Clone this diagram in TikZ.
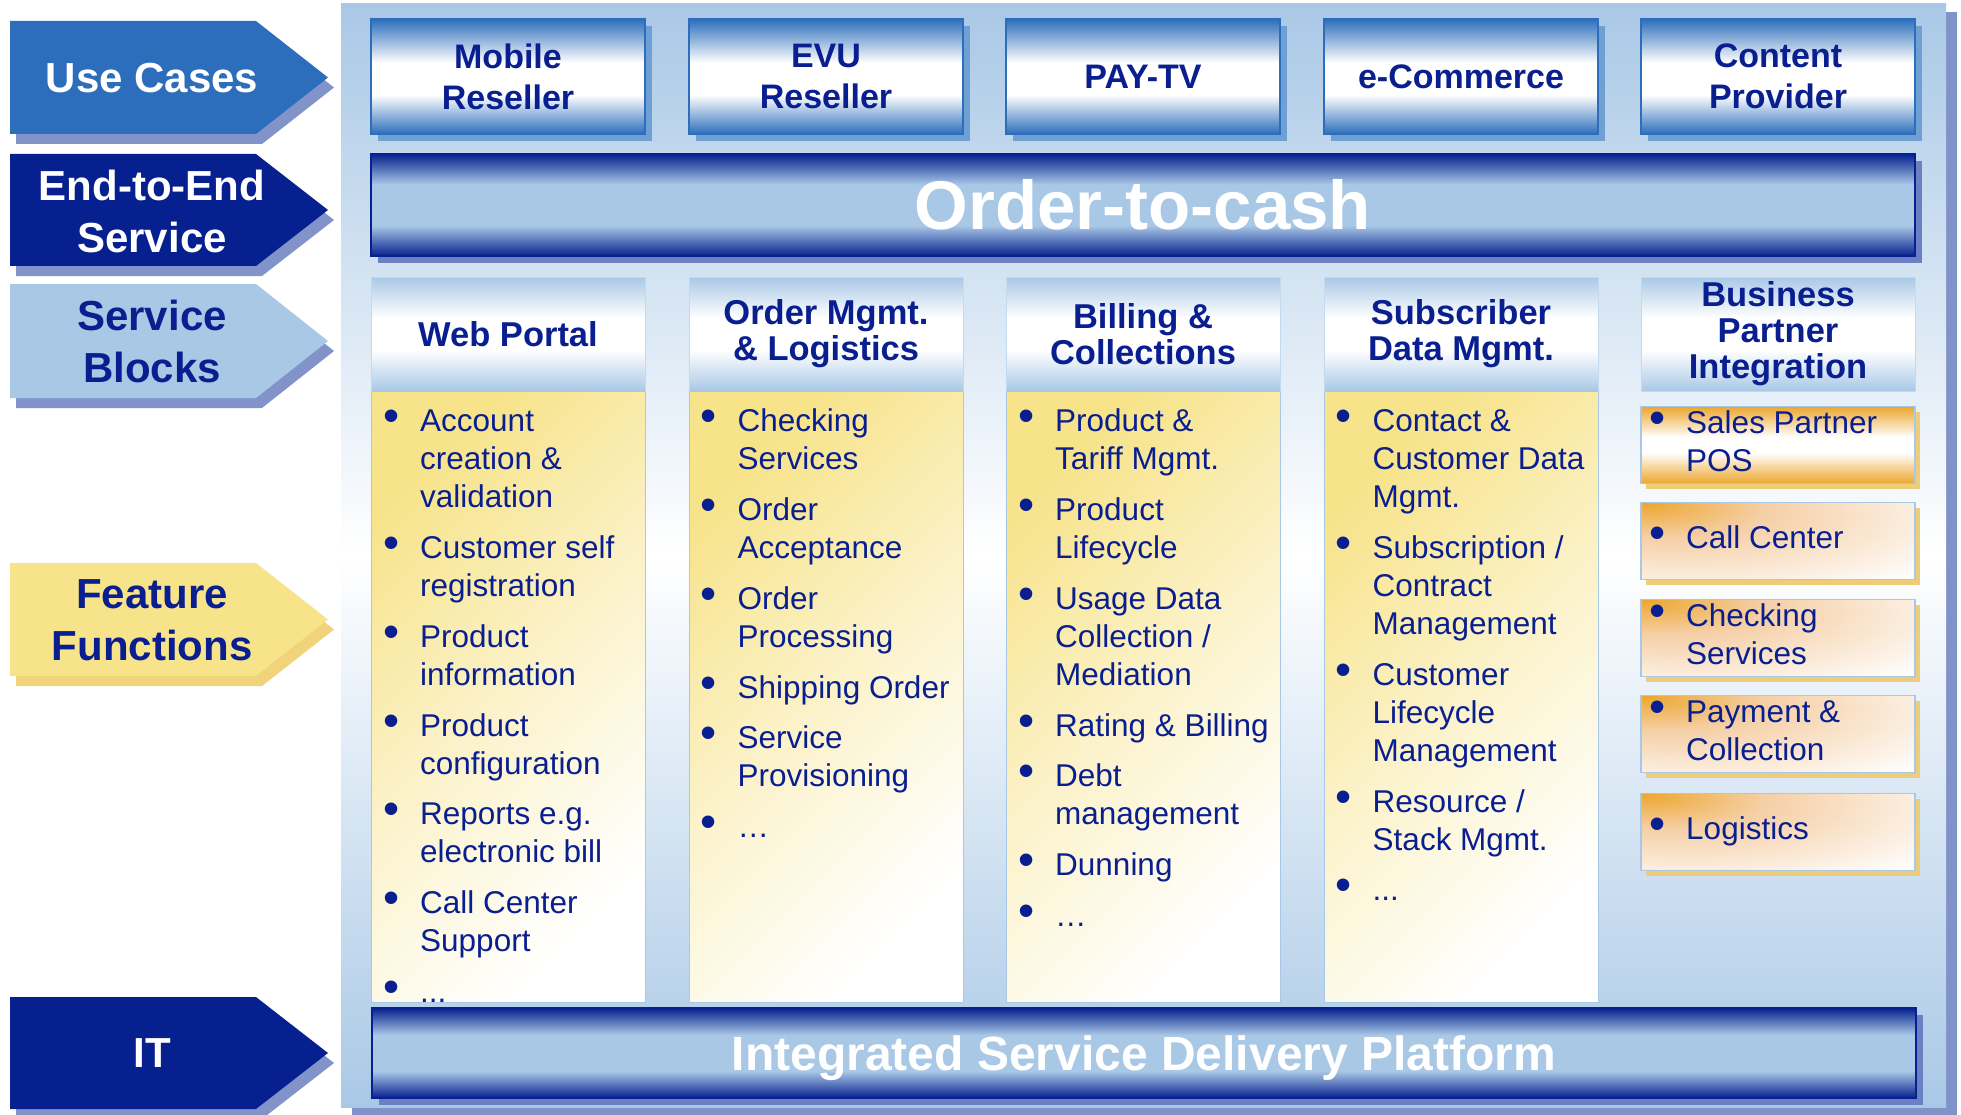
\documentclass[tikz,border=0pt]{standalone}
\usepackage{fontspec}
\setmainfont{Liberation Sans}
\usetikzlibrary{shadows}
\definecolor{txtNavy}{HTML}{0A1F8F}
\definecolor{barNavy}{HTML}{06218F}
\definecolor{tagBlue}{HTML}{2C6EBB}
\definecolor{paleBlue}{HTML}{A9C8E6}
\definecolor{tagShadow}{HTML}{8193C9}
\definecolor{ucShadow}{HTML}{6EA0D4}
\definecolor{barShadow}{HTML}{6A80C3}
\definecolor{featYellow}{HTML}{F7E38A}
\definecolor{featShadow}{HTML}{F1D37B}
\definecolor{bpOrange}{HTML}{EDA62C}
\definecolor{bpPeach}{HTML}{F5CFA6}
\definecolor{bpShadow}{HTML}{EDCD7A}
\definecolor{panelShadow}{HTML}{8192C9}
\pgfdeclareverticalshading{ucshade}{100bp}{color(0bp)=(tagBlue); color(25bp)=(tagBlue); color(42bp)=(white); color(56bp)=(white); color(75bp)=(tagBlue); color(100bp)=(tagBlue)}
\pgfdeclareverticalshading{barshade}{100bp}{color(0bp)=(barNavy); color(25bp)=(barNavy); color(40bp)=(paleBlue); color(60bp)=(paleBlue); color(75bp)=(barNavy); color(100bp)=(barNavy)}
\pgfdeclareverticalshading{headshade}{100bp}{color(0bp)=(paleBlue); color(25bp)=(paleBlue); color(43bp)=(white); color(57bp)=(white); color(75bp)=(paleBlue); color(100bp)=(paleBlue)}
\pgfdeclareverticalshading{posshade}{100bp}{color(0bp)=(bpOrange); color(25bp)=(bpOrange); color(45bp)=(white); color(55bp)=(white); color(75bp)=(bpOrange); color(100bp)=(bpOrange)}
\pgfdeclareradialshading{bpshade}{\pgfpoint{-25bp}{25bp}}{color(0bp)=(bpOrange); color(18bp)=(bpPeach); color(52bp)=(white); color(100bp)=(white)}
\tikzset{
	panel/.style={top color=paleBlue, bottom color=paleBlue, middle color=white, minimum width=1605pt, minimum height=1103pt,
		general shadow={fill=panelShadow, shadow xshift=11pt, shadow yshift=-8pt}},
	tagtext/.style={align=center, inner sep=0, font=\fontsize{42}{52}\selectfont\bfseries},
	ucbox/.style={draw=tagBlue, line width=1.5pt, shade, shading=ucshade, minimum width=274pt, minimum height=115pt,
		align=center, text=txtNavy, font=\fontsize{34}{41}\selectfont\bfseries,
		general shadow={fill=ucShadow, shadow xshift=7pt, shadow yshift=-7pt}},
	barbox/.style={draw=barNavy, line width=1.5pt, shade, shading=barshade, minimum width=1544pt, text=white,
		general shadow={fill=barShadow, shadow xshift=7pt, shadow yshift=-7pt}},
	headbox/.style={draw=paleBlue!70!white, shade, shading=headshade, minimum width=274pt, minimum height=114pt,
		align=center, text=txtNavy, font=\fontsize{34.5}{36}\selectfont\bfseries},
	featcol/.style={draw=paleBlue, top color=featYellow, bottom color=white, middle color=featYellow!45!white,
		shading angle=45, minimum width=274pt, minimum height=611pt},
	featlist/.style={anchor=north west, inner sep=0, text=txtNavy, font=\fontsize{31.5}{38}\selectfont},
	bpbox/.style={draw=paleBlue, line width=1.5pt, shade, shading=bpshade, minimum width=274pt, minimum height=77pt,
		general shadow={fill=bpShadow, shadow xshift=5pt, shadow yshift=-5pt}},
	bplist/.style={anchor=west, inner sep=0, text=txtNavy, font=\fontsize{31.5}{38}\selectfont}
}
\newcommand{\blist}[1]{\begin{tabular}{@{}p{37pt}@{}l@{}}#1\end{tabular}}
\newcommand{\itm}{{\fontsize{46}{38}\selectfont\textbullet} &}
\newcommand{\nxt}{\\[12.75pt]}
% #1 top, #2 bottom, #3 fill, #4 shadow
\newcommand{\sidetag}[4]{%
	\fill[#4] (16,#1+10) -- (262,#1+10) -- (334,{(#1+#2)/2+10}) -- (262,#2+10) -- (16,#2+10) -- cycle;
	\fill[#3] (10,#1) -- (256,#1) -- (328,{(#1+#2)/2}) -- (256,#2) -- (10,#2) -- cycle;}

\begin{document}
\begin{tikzpicture}[x=1pt,y=-1pt]
	\useasboundingbox (0,0) rectangle (1961,1115);
	\node[panel] (bg) at (1143.5,555.5) {};
	
	\sidetag{21}{134}{tagBlue}{tagShadow}
	\sidetag{154}{266}{barNavy}{tagShadow}
	\sidetag{284}{398}{paleBlue}{tagShadow}
	\sidetag{563}{676}{featYellow}{featShadow}
	\sidetag{997}{1109}{barNavy}{tagShadow}
	\node[tagtext, text=white] (usecases) at (152,78) {Use Cases};
	\node[tagtext, text=white] (e2e) at (152,211) {End-to-End\\Service};
	\node[tagtext, text=txtNavy] (blocks) at (152,341) {Service\\Blocks};
	\node[tagtext, text=txtNavy] (features) at (152,620) {Feature\\Functions};
	\node[tagtext, text=white] (it) at (152,1053) {IT};
	
	\node[ucbox] (mobile) at (508,76.5) {Mobile\\Reseller};
	\node[ucbox] (evu) at (826,76.5) {EVU\\Reseller};
	\node[ucbox] (paytv) at (1143,76.5) {PAY-TV};
	\node[ucbox] (ecom) at (1461,76.5) {e-Commerce};
	\node[ucbox] (content) at (1778,76.5) {Content\\Provider};
	
	\node[barbox, minimum height=102pt, font=\fontsize{69}{69}\selectfont\bfseries] (o2c) at (1143,205) {Order-to-cash};
	
	\node[headbox] (webportal) at (508,334) {Web Portal};
	\node[headbox] (ordermgmt) at (826,334) {Order Mgmt.\\\& Logistics};
	\node[headbox] (billing) at (1143,334) {Billing \&\\Collections};
	\node[headbox] (subscriber) at (1461,334) {Subscriber\\Data Mgmt.};
	\node[headbox] (partner) at (1778,334) {Business\\Partner\\Integration};
	
	\node[featcol] (wpcol) at (508,696.5) {};
	\node[featcol] (omcol) at (826,696.5) {};
	\node[featcol] (bccol) at (1143,696.5) {};
	\node[featcol] (sdcol) at (1461,696.5) {};
	
	\node[featlist] (wplist) at (383,405) {\blist{%
		\itm Account\\ & creation \&\\ & validation\nxt
		\itm Customer self\\ & registration\nxt
		\itm Product\\ & information\nxt
		\itm Product\\ & configuration\nxt
		\itm Reports e.g.\\ & electronic bill\nxt
		\itm Call Center\\ & Support\nxt
		\itm ...}};
	\node[featlist] (omlist) at (700.5,405) {\blist{%
		\itm Checking\\ & Services\nxt
		\itm Order\\ & Acceptance\nxt
		\itm Order\\ & Processing\nxt
		\itm Shipping Order\nxt
		\itm Service\\ & Provisioning\nxt
		\itm \ldots}};
	\node[featlist] (bclist) at (1018,405) {\blist{%
		\itm Product \&\\ & Tariff Mgmt.\nxt
		\itm Product\\ & Lifecycle\nxt
		\itm Usage Data\\ & Collection /\\ & Mediation\nxt
		\itm Rating \& Billing\nxt
		\itm Debt\\ & management\nxt
		\itm Dunning\nxt
		\itm \ldots}};
	\node[featlist] (sdlist) at (1335.5,405) {\blist{%
		\itm Contact \&\\ & Customer Data\\ & Mgmt.\nxt
		\itm Subscription /\\ & Contract\\ & Management\nxt
		\itm Customer\\ & Lifecycle\\ & Management\nxt
		\itm Resource /\\ & Stack Mgmt.\nxt
		\itm ...}};
	
	\node[bpbox, shading=posshade] (pos) at (1778,445) {};
	\node[bpbox] (callcenter) at (1778,541) {};
	\node[bpbox] (checking) at (1778,638) {};
	\node[bpbox] (payment) at (1778,734) {};
	\node[bpbox] (logistics) at (1778,832) {};
	\node[bplist] (postxt) at (1649,445) {\blist{\itm Sales Partner\\ & POS}};
	\node[bplist] (calltxt) at (1649,541) {\blist{\itm Call Center}};
	\node[bplist] (checktxt) at (1649,638) {\blist{\itm Checking\\ & Services}};
	\node[bplist] (paytxt) at (1649,734) {\blist{\itm Payment \&\\ & Collection}};
	\node[bplist] (logtxt) at (1649,832) {\blist{\itm Logistics}};
	
	\node[barbox, minimum height=90pt, text depth=0pt, font=\fontsize{48}{48}\selectfont\bfseries] (isdp) at (1144,1053) {Integrated Service Delivery Platform};
\end{tikzpicture}
\end{document}
